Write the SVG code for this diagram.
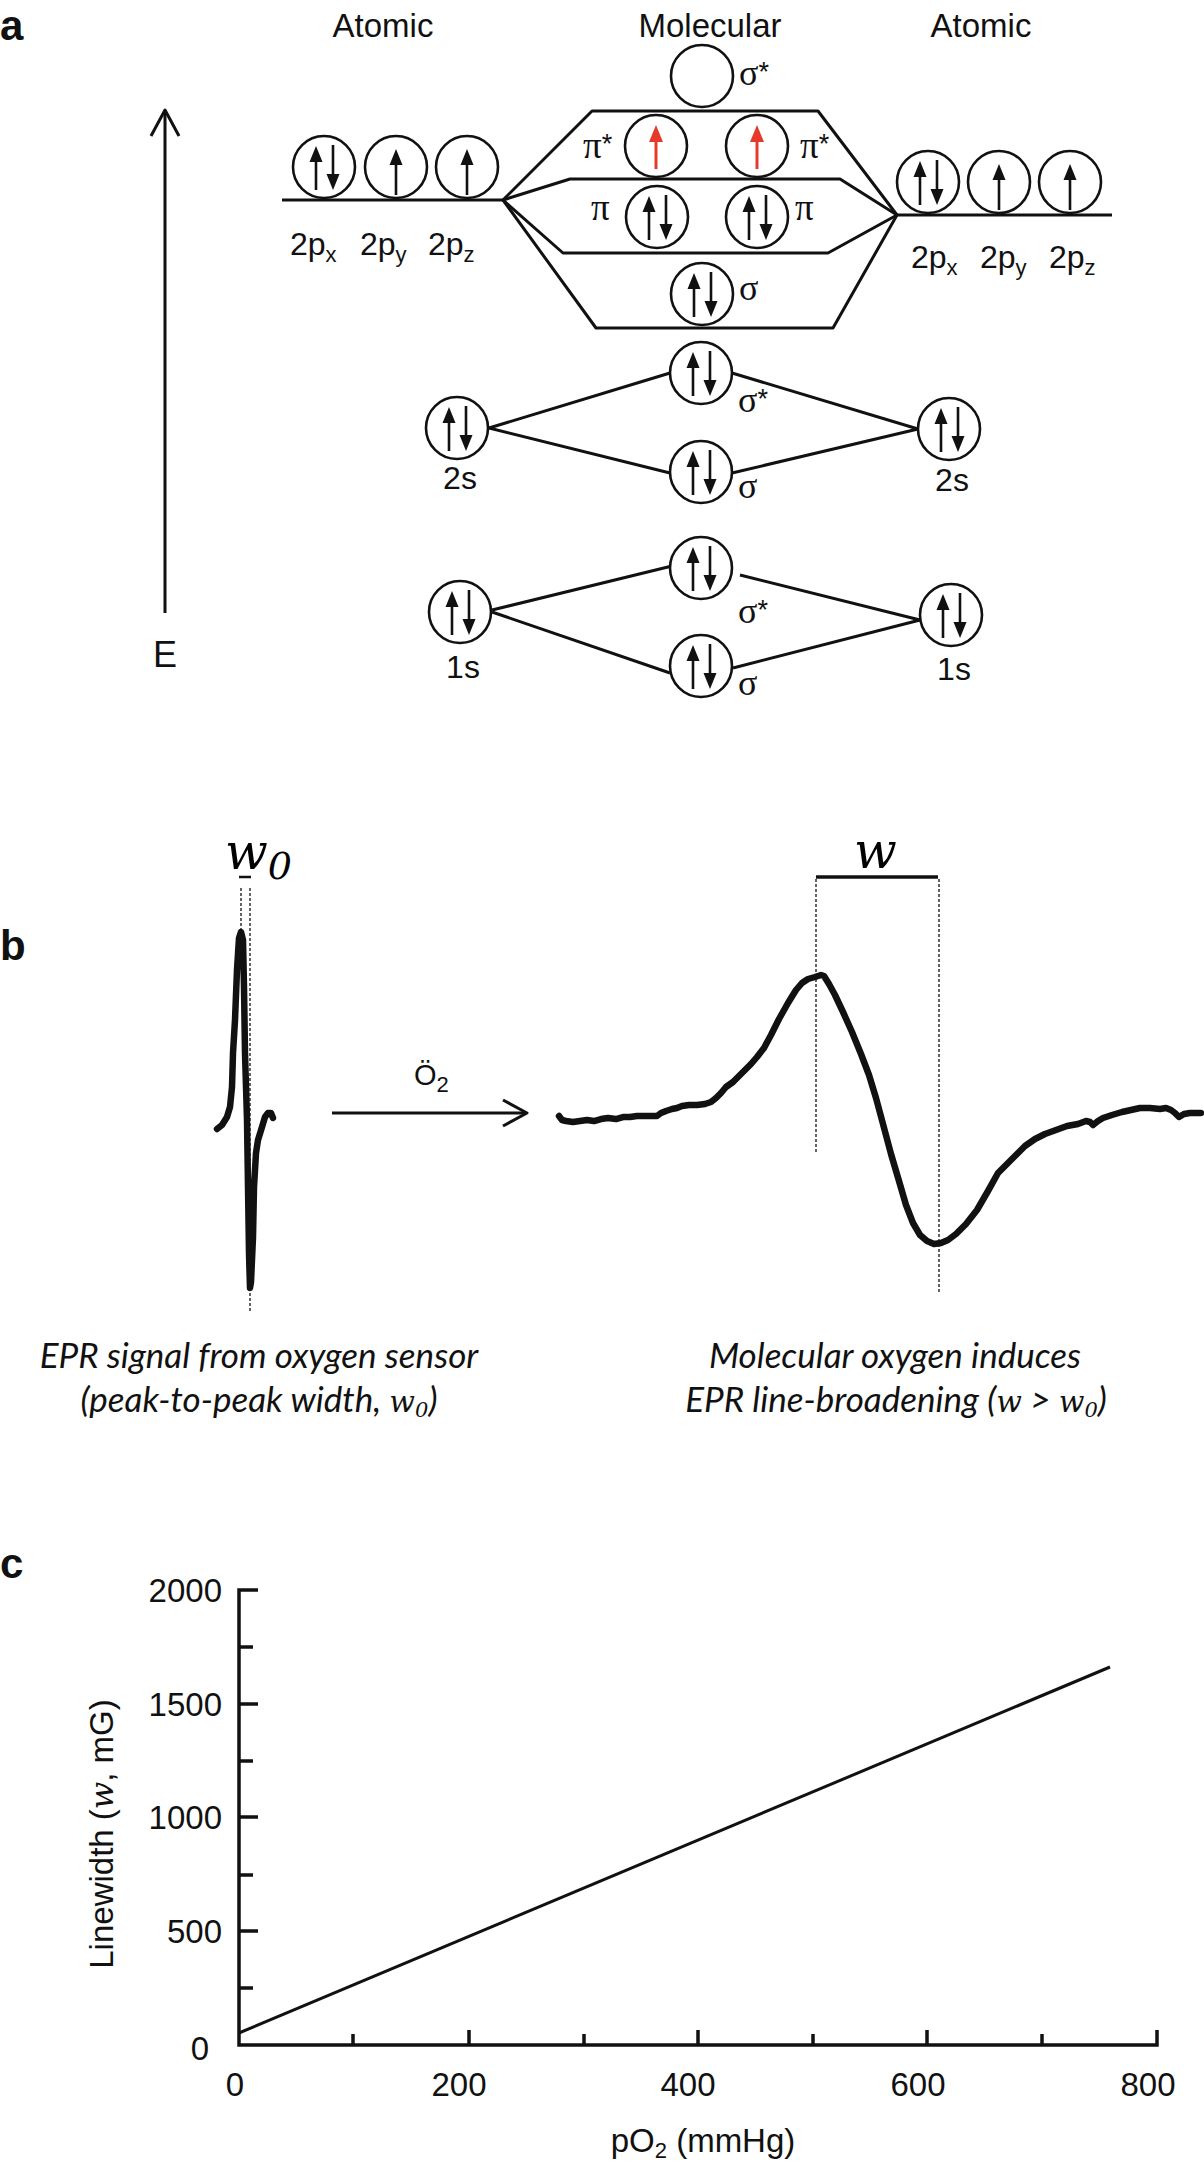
<svg xmlns="http://www.w3.org/2000/svg" width="1204" height="2163" viewBox="0 0 1204 2163">
<style>
.ln{stroke:#111;stroke-width:3;fill:none;stroke-linejoin:round}
.orb{fill:#fff;stroke:#111;stroke-width:2.6}
.el{stroke:#111;stroke-width:2.6}
.elh{fill:#111}
.red{stroke:#e53a2b;stroke-width:3}
.redh{fill:#e53a2b}
.t{font-family:"Liberation Sans",Arial,sans-serif;fill:#111}
.gr{font-family:"Liberation Serif","Times New Roman",serif;fill:#111}
.pl{font-family:"Liberation Sans",Arial,sans-serif;font-weight:bold;font-size:42px;fill:#111}
.cap{font-family:Lato,"Open Sans",sans-serif;font-style:italic;font-size:35px;fill:#111}
.m{font-family:"DejaVu Serif","Liberation Serif",serif;font-style:italic}
.sig{fill:none;stroke:#111;stroke-width:6.5;stroke-linejoin:round;stroke-linecap:round}
.dot{stroke:#111;stroke-width:1.3;stroke-dasharray:3 2;fill:none}
.ax{stroke:#111;stroke-width:3.5;fill:none}
.tk{font-family:"Liberation Sans",Arial,sans-serif;font-size:33px;fill:#111}
</style>
<defs>
<g id="pair">
<line class="el" x1="-8" y1="23" x2="-8" y2="-6"/><polygon class="elh" points="-8,-21 -14.5,-5 -1.5,-5"/>
<line class="el" x1="9" y1="-22" x2="9" y2="7"/><polygon class="elh" points="9,23 2.5,7 15.5,7"/>
</g>
<g id="up">
<line class="el" x1="0" y1="28" x2="0" y2="-3"/><polygon class="elh" points="0,-18 -6.5,-2 6.5,-2"/>
</g>
<g id="upred">
<line class="red" x1="0" y1="23" x2="0" y2="-6"/><polygon class="redh" points="0,-21 -7,-4 7,-4"/>
</g>
</defs>

<!-- Panel a -->
<text class="pl" x="0" y="40">a</text>
<g id="axis-E">
<line class="ln" x1="165" y1="112" x2="165" y2="613"/>
<polyline class="ln" points="151,136 165,110 179,136"/>
<text class="t" x="165" y="667" font-size="36" text-anchor="middle">E</text>
</g>
<text class="t" x="383" y="37" font-size="33" text-anchor="middle">Atomic</text>
<text class="t" x="710" y="37" font-size="33" text-anchor="middle">Molecular</text>
<text class="t" x="981" y="37" font-size="33" text-anchor="middle">Atomic</text>

<g id="connectors">
<line class="ln" x1="282" y1="200" x2="503" y2="200"/>
<line class="ln" x1="897" y1="215" x2="1112" y2="215"/>
<polyline class="ln" points="503,200 592,111 818,111 897,215"/>
<polyline class="ln" points="503,200 570,179 840,179 897,215"/>
<polyline class="ln" points="503,200 563,253 828,253 897,215"/>
<polyline class="ln" points="503,200 596,328 833,328 897,215"/>
<line class="ln" x1="489" y1="428" x2="670" y2="373"/>
<line class="ln" x1="489" y1="428" x2="670" y2="473"/>
<line class="ln" x1="732" y1="373" x2="918" y2="429"/>
<line class="ln" x1="732" y1="473" x2="918" y2="429"/>
<line class="ln" x1="492" y1="610" x2="672" y2="566"/>
<line class="ln" x1="492" y1="612" x2="670" y2="673"/>
<line class="ln" x1="740" y1="575" x2="920" y2="620"/>
<line class="ln" x1="733" y1="668" x2="920" y2="620"/>
</g>

<g id="atomic-left-2p">
<circle class="orb" cx="324" cy="167" r="31"/><use href="#pair" x="324" y="167"/>
<circle class="orb" cx="396" cy="167" r="31"/><use href="#up" x="396" y="167"/>
<circle class="orb" cx="467" cy="167" r="31"/><use href="#up" x="467" y="167"/>
<text class="t" font-size="32" x="290" y="255">2p<tspan font-size="22" dy="7">x</tspan></text>
<text class="t" font-size="32" x="360" y="255">2p<tspan font-size="22" dy="7">y</tspan></text>
<text class="t" font-size="32" x="428" y="255">2p<tspan font-size="22" dy="7">z</tspan></text>
</g>
<g id="atomic-right-2p">
<circle class="orb" cx="928" cy="182" r="31"/><use href="#pair" x="928" y="182"/>
<circle class="orb" cx="999" cy="182" r="31"/><use href="#up" x="999" y="182"/>
<circle class="orb" cx="1070" cy="182" r="31"/><use href="#up" x="1070" y="182"/>
<text class="t" font-size="32" x="911" y="268">2p<tspan font-size="22" dy="7">x</tspan></text>
<text class="t" font-size="32" x="980" y="268">2p<tspan font-size="22" dy="7">y</tspan></text>
<text class="t" font-size="32" x="1049" y="268">2p<tspan font-size="22" dy="7">z</tspan></text>
</g>
<g id="mo-sigma-star-2p">
<circle class="orb" cx="702" cy="76" r="31"/>
<text class="gr" font-size="36" x="739" y="85">σ<tspan class="t" font-size="27" dy="-4">*</tspan></text>
</g>
<g id="mo-pi-star">
<circle class="orb" cx="656" cy="146" r="31"/><use href="#upred" x="656" y="146"/>
<circle class="orb" cx="757" cy="146" r="31"/><use href="#upred" x="757" y="146"/>
<text class="gr" font-size="37" x="583" y="158">π<tspan class="t" font-size="27" dy="-5">*</tspan></text>
<text class="gr" font-size="37" x="800" y="158">π<tspan class="t" font-size="27" dy="-5">*</tspan></text>
</g>
<g id="mo-pi">
<circle class="orb" cx="657" cy="217" r="31"/><use href="#pair" x="657" y="217"/>
<circle class="orb" cx="757" cy="217" r="31"/><use href="#pair" x="757" y="217"/>
<text class="gr" font-size="37" x="591" y="220">π</text>
<text class="gr" font-size="37" x="795" y="220">π</text>
</g>
<g id="mo-sigma-2p">
<circle class="orb" cx="702" cy="294" r="31"/><use href="#pair" x="702" y="294"/>
<text class="gr" font-size="36" x="739" y="300">σ</text>
</g>

<g id="atomic-2s-left">
<circle class="orb" cx="457" cy="428" r="31"/><use href="#pair" x="457" y="428"/>
<text class="t" font-size="32" x="460" y="489" text-anchor="middle">2s</text>
</g>
<g id="mo-sigma-star-2s">
<circle class="orb" cx="701" cy="373" r="31"/><use href="#pair" x="701" y="373"/>
<text class="gr" font-size="36" x="738" y="412">σ<tspan class="t" font-size="27" dy="-4">*</tspan></text>
</g>
<g id="mo-sigma-2s">
<circle class="orb" cx="701" cy="472" r="31"/><use href="#pair" x="701" y="472"/>
<text class="gr" font-size="36" x="738" y="498">σ</text>
</g>
<g id="atomic-2s-right">
<circle class="orb" cx="949" cy="429" r="31"/><use href="#pair" x="949" y="429"/>
<text class="t" font-size="32" x="952" y="491" text-anchor="middle">2s</text>
</g>

<g id="atomic-1s-left">
<circle class="orb" cx="460" cy="612" r="31"/><use href="#pair" x="460" y="612"/>
<text class="t" font-size="32" x="463" y="678" text-anchor="middle">1s</text>
</g>
<g id="mo-sigma-star-1s">
<circle class="orb" cx="701" cy="568" r="31"/><use href="#pair" x="701" y="568"/>
<text class="gr" font-size="36" x="738" y="623">σ<tspan class="t" font-size="27" dy="-4">*</tspan></text>
</g>
<g id="mo-sigma-1s">
<circle class="orb" cx="701" cy="666" r="31"/><use href="#pair" x="701" y="666"/>
<text class="gr" font-size="36" x="738" y="695">σ</text>
</g>
<g id="atomic-1s-right">
<circle class="orb" cx="951" cy="615" r="31"/><use href="#pair" x="951" y="615"/>
<text class="t" font-size="32" x="954" y="680" text-anchor="middle">1s</text>
</g>

<!-- Panel b -->
<text class="pl" x="0" y="960">b</text>
<g id="signal-narrow">
<text class="m" font-size="50" x="225" y="869">w<tspan font-size="38" dy="10">0</tspan></text>
<line stroke="#111" stroke-width="2.5" x1="239" y1="877" x2="251" y2="877"/>
<line class="dot" x1="241" y1="888" x2="241" y2="934"/>
<line class="dot" x1="250" y1="888" x2="250" y2="1312"/>
<path class="sig" d="M217,1129 L222,1125 L227,1117 L230,1107 L232,1087 L233,1053 L235,1020 L237,970 L239,938 L241,932 L243,940 L244,987 L245,1053 L247,1120 L248,1187 L249,1253 L250,1288 L251,1282 L253,1237 L254,1187 L256,1153 L258,1140 L262,1127 L265,1117 L268,1113 L271,1113 L273,1118"/>
</g>
<g id="arrow-O2">
<line class="ln" x1="332" y1="1113" x2="526" y2="1113"/>
<polyline class="ln" points="503,1100 527,1113 503,1126"/>
<text class="t" font-size="29" x="414" y="1085">Ö<tspan font-size="22" dy="7">2</tspan></text>
</g>
<g id="signal-broad">
<text class="m" font-size="50" x="854" y="868">w</text>
<line stroke="#111" stroke-width="3.5" x1="816" y1="877" x2="938" y2="877"/>
<line class="dot" x1="816" y1="879" x2="816" y2="1153"/>
<line class="dot" x1="939" y1="879" x2="939" y2="1292"/>
<path class="sig" d="M559,1116 L562,1120 L566,1121 L573,1122 L580,1121 L587,1120 L594,1121 L601,1119 L608,1118 L616,1119 L623,1117 L630,1117 L637,1116 L644,1116 L651,1116 L657,1116 L661,1113 L666,1111 L672,1109 L677,1108 L682,1106 L689,1105 L697,1105 L705,1104 L711,1102 L716,1098 L721,1093 L726,1087 L733,1082 L739,1076 L745,1070 L751,1064 L757,1057 L764,1048 L771,1035 L779,1019 L788,1003 L796,990 L802,983 L808,979 L815,977 L821,975 L824,976 L829,984 L835,995 L843,1012 L852,1032 L861,1054 L869,1075 L876,1098 L883,1124 L891,1154 L899,1181 L906,1205 L913,1223 L920,1235 L927,1241 L934,1244 L941,1243 L948,1240 L956,1234 L966,1224 L977,1210 L988,1191 L998,1173 L1007,1164 L1016,1155 L1025,1146 L1035,1139 L1045,1134 L1056,1130 L1067,1126 L1078,1124 L1086,1121 L1090,1122 L1093,1125 L1098,1121 L1103,1118 L1112,1115 L1122,1112 L1131,1110 L1140,1108 L1150,1108 L1160,1109 L1166,1108 L1171,1110 L1175,1113 L1179,1117 L1184,1114 L1190,1113 L1196,1113 L1201,1113"/>
</g>
<g id="captions-b">
<text class="cap" x="259" y="1368" text-anchor="middle">EPR signal from oxygen sensor</text>
<text class="cap" x="259" y="1412" text-anchor="middle">(peak-to-peak width, <tspan class="m" font-size="30">w</tspan><tspan class="m" font-size="21" dy="5">0</tspan><tspan dy="-5">)</tspan></text>
<text class="cap" x="895" y="1368" text-anchor="middle">Molecular oxygen induces</text>
<text class="cap" x="896" y="1412" text-anchor="middle">EPR line-broadening (<tspan class="m" font-size="30">w</tspan> &gt; <tspan class="m" font-size="30">w</tspan><tspan class="m" font-size="21" dy="5">0</tspan><tspan dy="-5">)</tspan></text>
</g>

<!-- Panel c -->
<text class="pl" x="0" y="1578">c</text>
<g id="plot-axes">
<polyline class="ax" points="258,1590 239,1590 239,2045 1157,2045 1157,2030"/>
<path class="ax" d="M239,1647 H253 M239,1704 H258 M239,1761 H253 M239,1817 H258 M239,1875 H253 M239,1931 H258 M239,1988 H253"/>
<path class="ax" d="M353,2045 V2034 M469,2045 V2030 M584,2045 V2034 M698,2045 V2030 M813,2045 V2034 M927,2045 V2030 M1042,2045 V2034"/>
</g>
<g id="plot-labels">
<text class="tk" x="222" y="1602" text-anchor="end">2000</text>
<text class="tk" x="222" y="1716" text-anchor="end">1500</text>
<text class="tk" x="222" y="1829" text-anchor="end">1000</text>
<text class="tk" x="222" y="1943" text-anchor="end">500</text>
<text class="tk" x="209" y="2060" text-anchor="end">0</text>
<text class="tk" x="235" y="2096" text-anchor="middle">0</text>
<text class="tk" x="459" y="2096" text-anchor="middle">200</text>
<text class="tk" x="688" y="2096" text-anchor="middle">400</text>
<text class="tk" x="918" y="2096" text-anchor="middle">600</text>
<text class="tk" x="1148" y="2096" text-anchor="middle">800</text>
<text class="tk" font-size="34" transform="translate(113,1834) rotate(-90)" text-anchor="middle">Linewidth (<tspan class="m" font-size="32">w</tspan>, mG)</text>
<text class="tk" x="703" y="2152" text-anchor="middle">pO<tspan font-size="22" dy="6">2</tspan><tspan dy="-6"> (mmHg)</tspan></text>
</g>
<g id="plot-data">
<line class="ln" x1="239" y1="2033" x2="1110" y2="1667"/>
</g>
</svg>
